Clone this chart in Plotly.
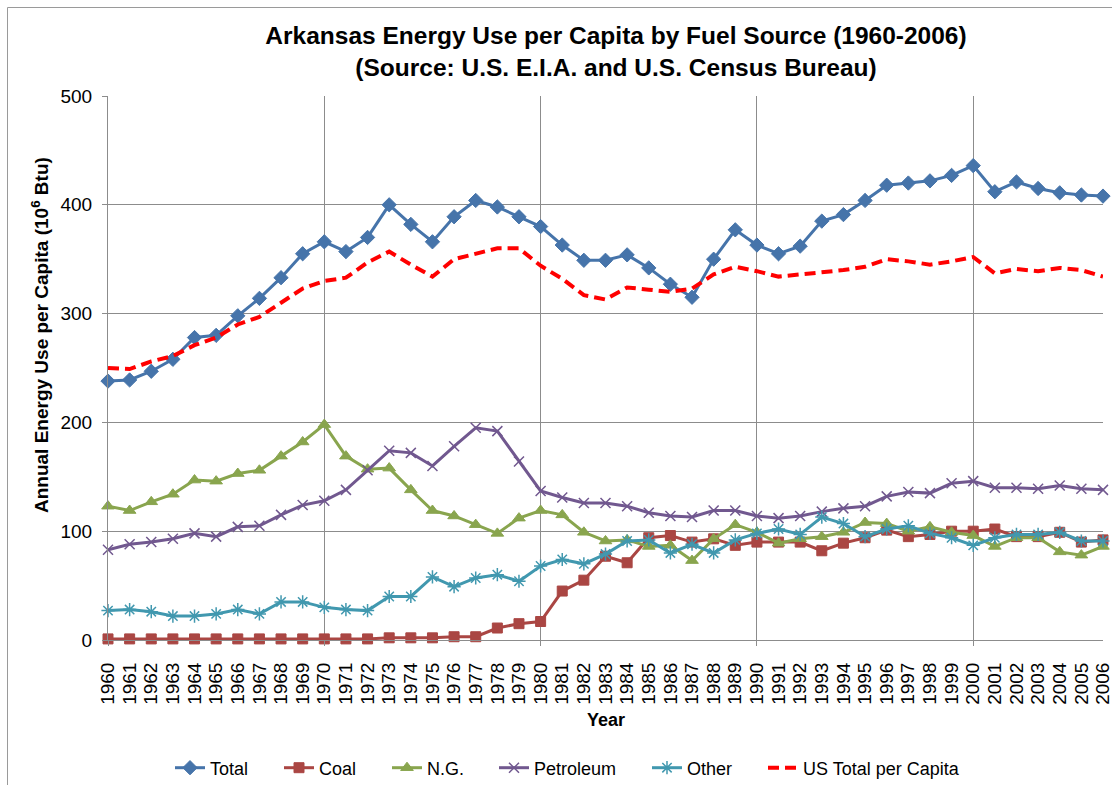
import plotly.graph_objects as go

years = list(range(1960, 2007))

total = [238, 239, 247, 258, 278, 280, 298, 314, 333, 355,
         366, 357, 370, 400, 382, 366, 389, 404, 398, 389,
         380, 363, 349, 349, 354, 342, 327, 315, 350, 377,
         363, 355, 362, 385, 391, 404, 418, 420, 422, 427,
         436, 412, 421, 415, 411, 409, 408]

coal = [1, 1, 1, 1, 1, 1, 1, 1, 1, 1,
        1, 1, 1, 2, 2, 2, 3, 3, 11, 15,
        17, 45, 55, 77, 71, 94, 96, 90, 93, 87,
        90, 90, 90, 82, 89, 94, 101, 95, 97, 100,
        100, 102, 95, 95, 99, 90, 92]

ng = [123, 119, 127, 134, 147, 146, 153, 156, 169, 182,
      198, 169, 157, 158, 138, 119, 114, 106, 98, 112,
      119, 115, 99, 91, 92, 86, 87, 73, 93, 106,
      99, 89, 93, 95, 99, 108, 107, 100, 104, 99,
      96, 86, 94, 94, 81, 78, 86]

petroleum = [83, 88, 90, 93, 98, 95, 104, 105, 115, 124,
             128, 138, 156, 174, 172, 160, 178, 195, 192, 164,
             137, 131, 126, 126, 123, 117, 114, 113, 119, 119,
             114, 112, 114, 118, 121, 123, 132, 136, 135, 144,
             146, 140, 140, 139, 142, 139, 138]

other = [27, 28, 26, 22, 22, 24, 28, 24, 35, 35,
         30, 28, 27, 40, 40, 58, 49, 57, 60, 54,
         68, 74, 70, 79, 91, 92, 80, 88, 80, 92,
         98, 102, 97, 113, 107, 95, 102, 105, 98, 94,
         87, 94, 97, 97, 99, 91, 91]

us_total = [250, 249, 256, 261, 271, 278, 290, 297, 310, 323,
            330, 333, 347, 357, 345, 334, 350, 355, 360, 360,
            344, 332, 317, 313, 324, 322, 320, 323, 336, 343,
            339, 334, 336, 338, 340, 343, 350, 348, 345, 348,
            352, 337, 341, 339, 342, 340, 334]

FONT = "Liberation Sans, Arial, sans-serif"
GRID = "#8c8c8c"

# the page margin is removed (see post_script), so figure px == page px
W, H = 1112, 785
L, T = 108, 96
R = W - 1103
B = H - 640
pw, ph = W - L - R, H - T - B


def px_x(p):  # page x pixel -> paper fraction
    return (p - L) / pw


def px_y(p):  # page y pixel -> paper fraction
    return (T + ph - p) / ph


fig = go.Figure()

# (name, values, colour, marker, size, marker line width, legend text start px)
series = [
    ("Total", total, "#4674AA", "diamond", 11, 1, 212),
    ("Coal", coal, "#AA4643", "square", 10, 1, 321),
    ("N.G.", ng, "#89A54E", "triangle-up", 11, 1, 429),
    ("Petroleum", petroleum, "#71588F", "x-thin-open", 10, 1.5, 536),
    ("Other", other, "#4198AF", "asterisk-open", 11, 1.5, 689),
]
legend_layout = {}
for i, (name, vals, color, sym, size, lw, tx) in enumerate(series):
    lid = "legend" if i == 0 else f"legend{i + 1}"
    fig.add_trace(go.Scatter(
        x=years, y=vals, name=name, mode="lines+markers",
        line=dict(color=color, width=3),
        marker=dict(symbol=sym, size=size, color=color,
                    line=dict(color=color, width=lw)),
        legend=lid, cliponaxis=False,
    ))
    legend_layout[lid] = tx

fig.add_trace(go.Scatter(
    x=years, y=us_total, name="US Total per Capita", mode="lines",
    line=dict(color="#FF0000", width=4, dash="11px,6px"),
    legend="legend6", cliponaxis=False,
))
legend_layout["legend6"] = 805

# helper trace for the decade gridline axis
fig.add_trace(go.Scatter(x=[years[0], years[-1]], y=[None, None], xaxis="x2",
                         showlegend=False, hoverinfo="skip"))

fig.update_layout(
    width=W, height=H,
    margin=dict(l=L, r=R, t=T, b=B, autoexpand=False),
    paper_bgcolor="white", plot_bgcolor="white",
    font=dict(family=FONT, color="black", size=16),
    title=dict(
        text="<b>Arkansas Energy Use per Capita by Fuel Source (1960-2006)<br>(Source: U.S. E.I.A. and U.S. Census Bureau)</b>",
        x=616 / W, xref="container", xanchor="center",
        y=1 - 44 / H, yref="container", yanchor="middle",
        font=dict(size=24.5, family=FONT, color="black"),
    ),
    xaxis=dict(
        range=[years[0], years[-1]],
        tickmode="array", tickvals=years, ticktext=[str(y) for y in years],
        tickangle=-90, tickfont=dict(size=19),
        showgrid=False, zeroline=False,
        showline=True, linecolor=GRID, linewidth=1,
        ticks="outside", ticklen=14, tickcolor="rgba(0,0,0,0)",
        ticklabeloverflow="allow", automargin=False,
    ),
    xaxis2=dict(
        range=[years[0], years[-1]], overlaying="x", anchor="y", side="bottom",
        tickmode="linear", tick0=years[0], dtick=10,
        showticklabels=False, showgrid=True, gridcolor=GRID, gridwidth=1,
        ticks="outside", ticklen=5, tickcolor=GRID, zeroline=False,
        automargin=False,
    ),
    yaxis=dict(
        range=[0, 500], tickmode="linear", tick0=0, dtick=100,
        showgrid=True, gridcolor=GRID, gridwidth=1, zeroline=False,
        showline=True, linecolor=GRID, linewidth=1,
        ticks="outside", ticklen=5, tickcolor=GRID,
        tickfont=dict(size=19), ticklabelstandoff=6, automargin=False,
    ),
    showlegend=True,
)

for lid, tx in legend_layout.items():
    fig.update_layout({lid: dict(
        orientation="h", xref="container", yref="container",
        x=(tx - 42) / W, xanchor="left",
        y=1 - 768 / H, yanchor="middle",
        font=dict(size=18, family=FONT, color="black"),
        bgcolor="rgba(0,0,0,0)",
    )})

# x-axis title
fig.add_annotation(
    text="<b>Year</b>", xref="paper", yref="paper",
    x=px_x(606), y=px_y(720), xanchor="center", yanchor="middle",
    showarrow=False, font=dict(size=18, family=FONT, color="black"),
)

# y-axis title
fig.add_annotation(
    text="<b>Annual Energy Use per Capita (10<sup>6</sup> Btu)</b>",
    textangle=-90, xref="paper", yref="paper",
    x=px_x(40), y=px_y(335),
    xanchor="center", yanchor="middle", showarrow=False,
    font=dict(size=19, family=FONT, color="black"),
)

# outer chart frame (left and top edges visible in the reference)
for x0, y0, x1, y1 in [(7.5, 7.5, 7.5, 800), (7.5, 7.5, 1130, 7.5)]:
    fig.add_shape(
        type="line", xref="paper", yref="paper",
        x0=px_x(x0), y0=px_y(y0), x1=px_x(x1), y1=px_y(y1),
        line=dict(color="#9a9a9a", width=1), layer="below",
    )

fig.write_html(
    "out.html",
    config={"displayModeBar": False},
    post_script=(
        "document.body.style.margin='0';"
        "document.body.style.overflow='hidden';"
        "document.documentElement.style.overflow='hidden';"
    ),
)
